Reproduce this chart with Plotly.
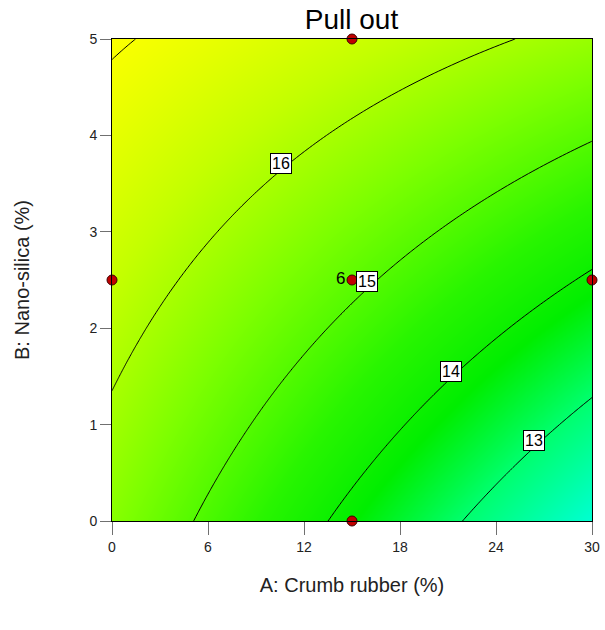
import numpy as np
import plotly.graph_objects as go

# Fitted response surface for pull-out: y = b0 + bA*A + bB*B + bAB*A*B
b0, bA, bB, bAB = 15.607, -0.119, 0.291, 0.01537

# Design points (A: crumb rubber %, B: nano-silica %)
design_A = [0, 15, 15, 15, 30]
design_B = [2.5, 5, 2.5, 0, 2.5]
center_replicates = "6"

contour_levels = [13, 14, 15, 16, 17]
label_levels = [13, 14, 15, 16]
label_A = [26.3, 21.1, 15.9, 10.5]

x_ticks = [0, 6, 12, 18, 24, 30]
y_ticks = [0, 1, 2, 3, 4, 5]


def response(a, b):
    return b0 + bA * a + bB * b + bAB * a * b


def b_on_level(level, a):
    return (level - b0 - bA * a) / (bB + bAB * a)


A = np.linspace(0, 30, 241)
B = np.linspace(0, 5, 241)
AA, BB = np.meshgrid(A, B)
Z = response(AA, BB)

zmin, zmax = 12.0, 17.1
stops = [(12.0, "rgb(0,255,215)"), (13.0, "rgb(0,255,110)"), (13.8, "rgb(0,238,0)"),
         (14.5, "rgb(40,245,0)"), (15.5, "rgb(125,255,0)"), (16.3, "rgb(195,255,0)"),
         (17.1, "rgb(255,255,0)")]
colorscale = [[(v - zmin) / (zmax - zmin), c] for v, c in stops]

FONT = "Liberation Sans, Arial"

fig = go.Figure()
fig.add_trace(go.Heatmap(x=A, y=B, z=Z, colorscale=colorscale, zmin=zmin, zmax=zmax,
                         zsmooth="best", showscale=False, hoverinfo="skip"))
fig.add_trace(go.Contour(x=A, y=B, z=Z, showscale=False, hoverinfo="skip",
                         contours=dict(coloring="none", start=min(contour_levels),
                                       end=max(contour_levels), size=1),
                         line=dict(color="black", width=1)))
fig.add_trace(go.Scatter(x=design_A, y=design_B, mode="markers", hoverinfo="skip",
                         marker=dict(size=10, color="#c00000",
                                     line=dict(color="#400000", width=1)),
                         cliponaxis=False, showlegend=False))

# contour value tags sit just above their line
for lvl, a in zip(label_levels, label_A):
    fig.add_annotation(x=a, y=b_on_level(lvl, a), text=str(lvl), showarrow=False,
                       yshift=8, xshift=1,
                       font=dict(family=FONT, size=16, color="black"),
                       bgcolor="white", bordercolor="black", borderwidth=1, borderpad=1)

fig.add_annotation(x=design_A[2], y=design_B[2], text=center_replicates, showarrow=False,
                   xanchor="right", xshift=-5, yshift=2,
                   font=dict(family=FONT, size=17, color="black"))

axis_common = dict(showline=True, linecolor="black", linewidth=1, mirror=True,
                   showgrid=False, zeroline=False, ticks="outside", tickcolor="#707070",
                   automargin=False,
                   tickfont=dict(family=FONT, size=14, color="#222222"),
                   title_font=dict(family=FONT, size=20, color="#222222"))

fig.update_xaxes(range=[0, 30], tickvals=x_ticks, ticklen=13,
                 title_text="A: Crumb rubber (%)", title_standoff=24, **axis_common)
fig.update_yaxes(range=[0, 5], tickvals=y_ticks, ticklen=11,
                 title_text="B: Nano-silica (%)", title_standoff=54, **axis_common)

fig.update_layout(
    width=605, height=630,
    margin=dict(l=112, r=13, t=39, b=109),
    paper_bgcolor="white", plot_bgcolor="white",
    title=dict(text="Pull out", x=0.5810, xanchor="center", y=0.970, yanchor="middle",
               font=dict(family=FONT, size=28, color="black")),
    showlegend=False,
)

fig.write_html("out.html")
